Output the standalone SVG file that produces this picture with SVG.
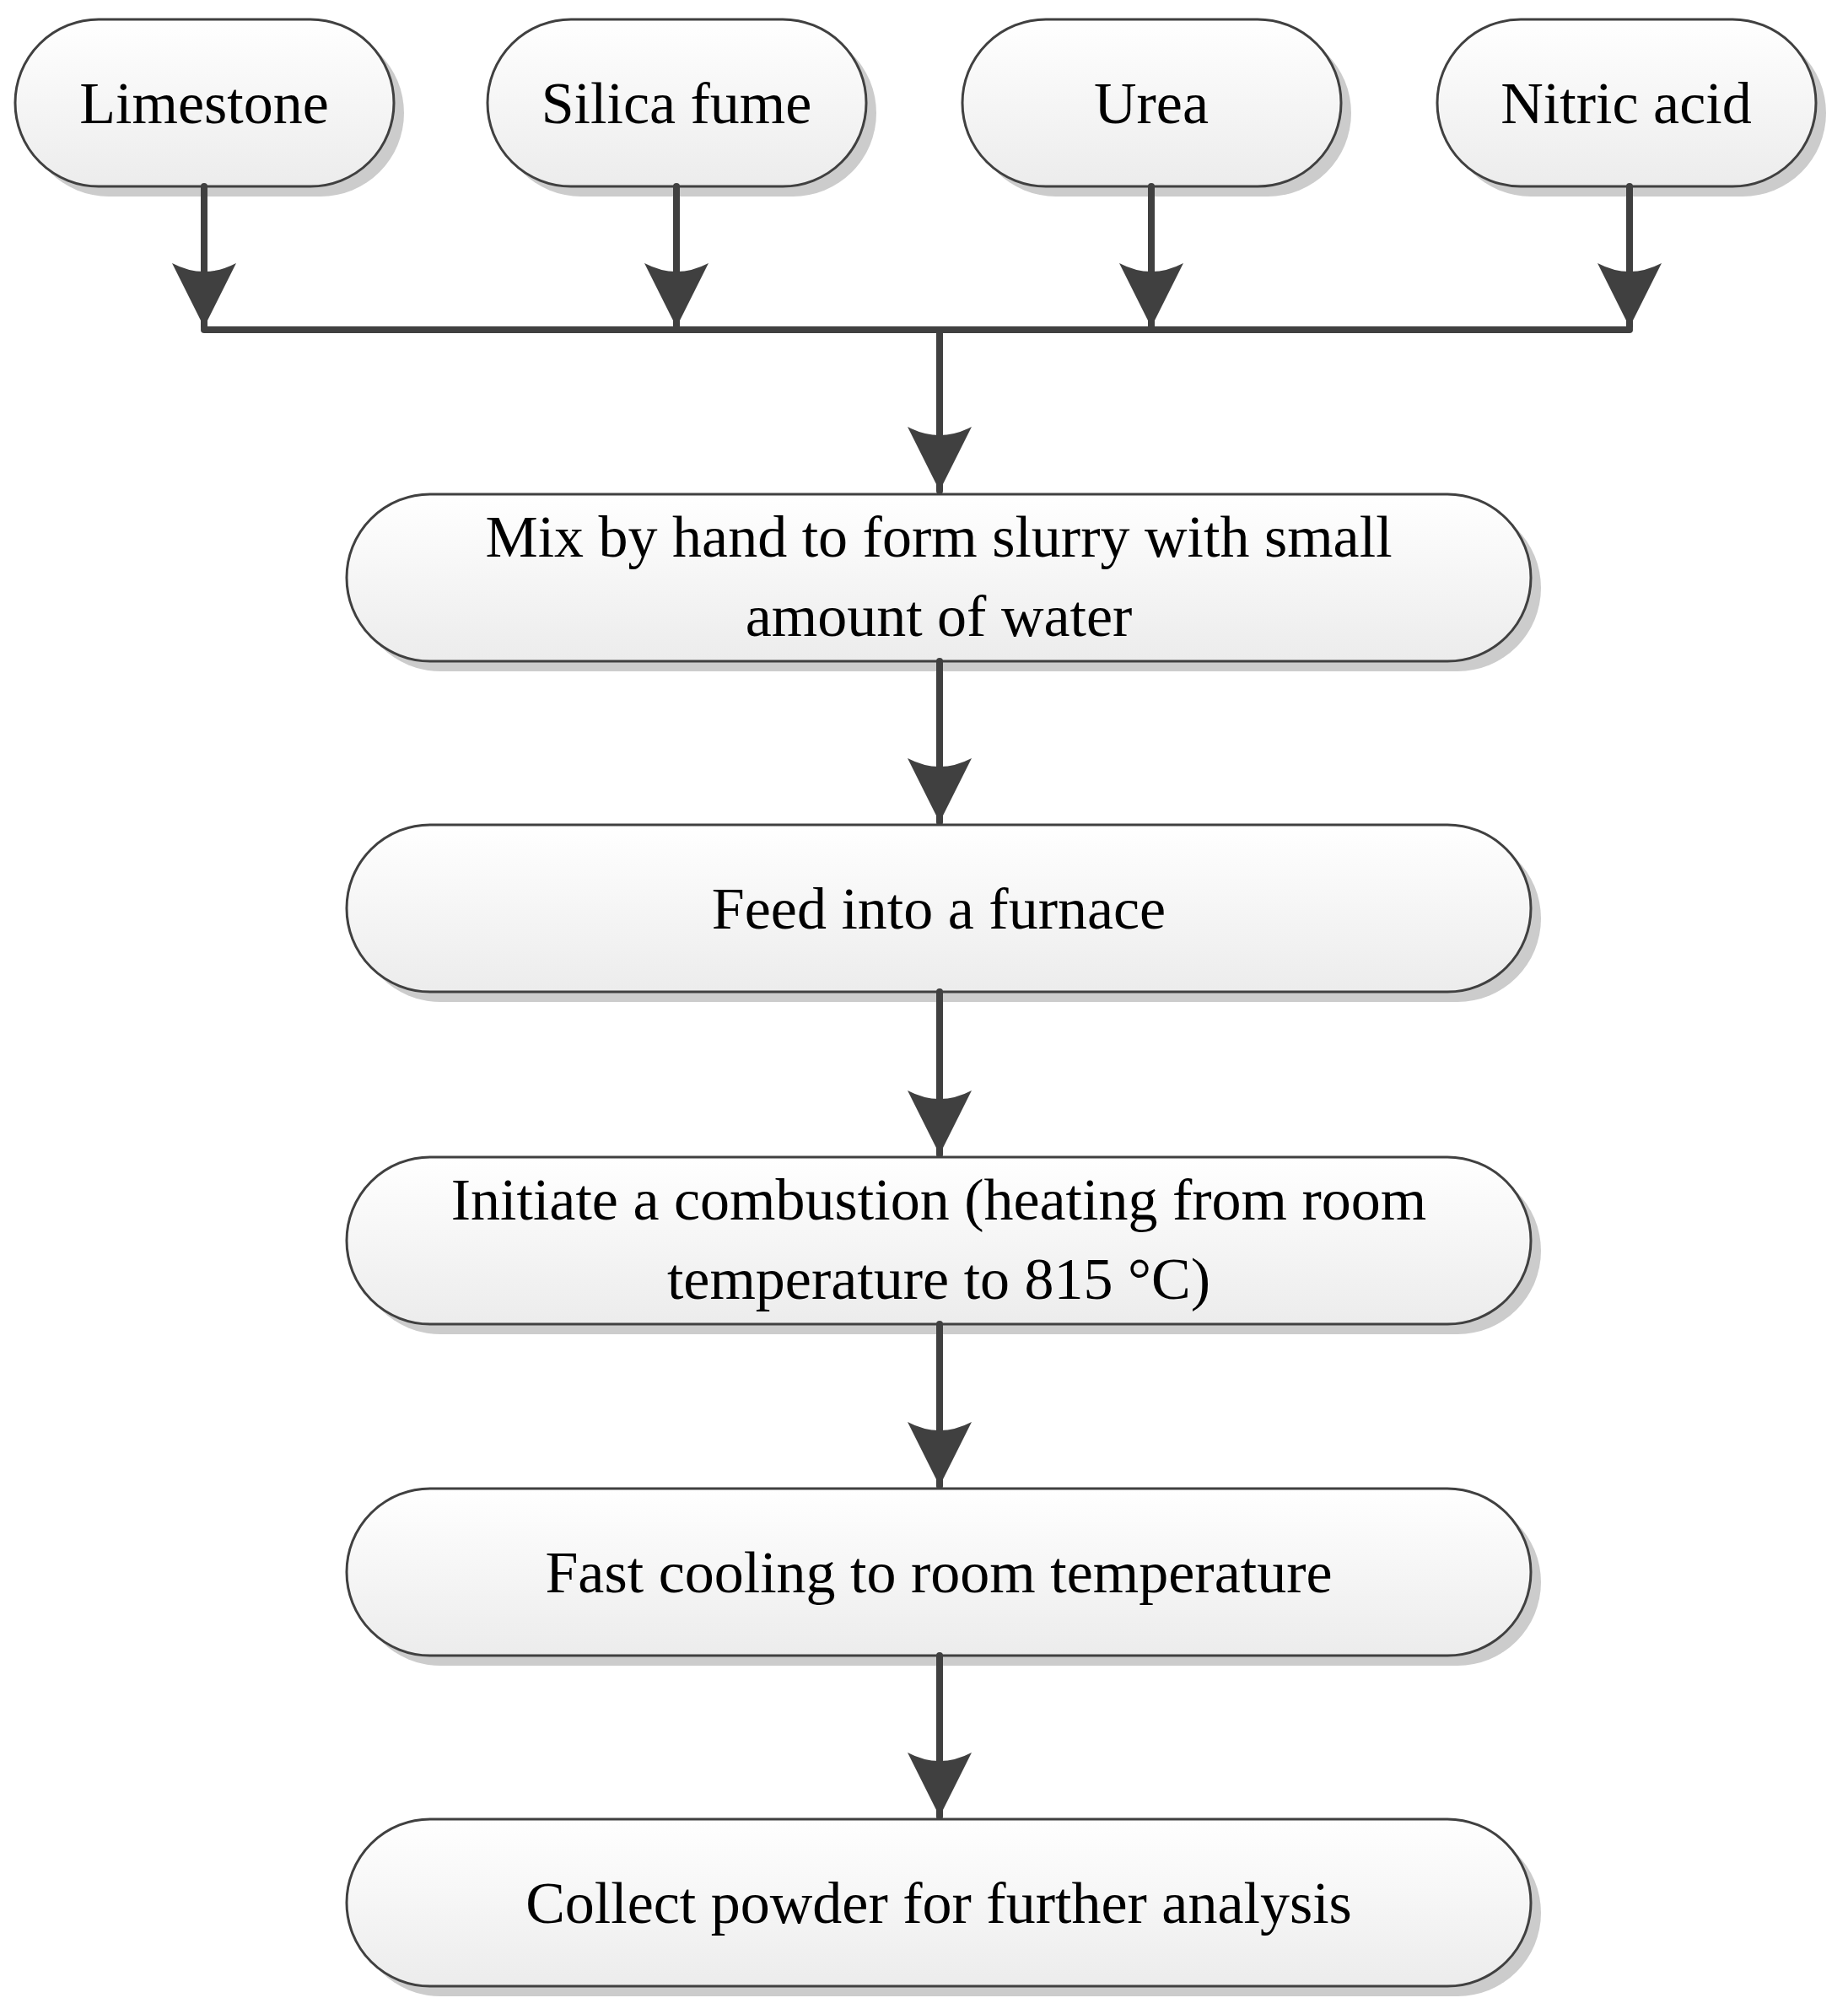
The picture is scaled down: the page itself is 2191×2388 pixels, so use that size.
<svg xmlns="http://www.w3.org/2000/svg" width="2191" height="2388" viewBox="0 0 2191 2388">
<defs>
<linearGradient id="g" x1="0" y1="0" x2="0" y2="1"><stop offset="0" stop-color="#ffffff"/><stop offset="1" stop-color="#ececec"/></linearGradient>
<marker id="ah" markerUnits="userSpaceOnUse" markerWidth="80" markerHeight="80" viewBox="0 0 80 80" refX="76" refY="40" orient="auto"><path d="M0,2 Q20,40 0,78 L76,40 Z" fill="#404040"/></marker>
<style>
.b{fill:url(#g);stroke:#404040;stroke-width:3}
.s{fill:#cccccc}
.t{font-family:"Liberation Serif",serif;font-size:70px;text-anchor:middle;fill:#000}
.c{stroke:#404040;stroke-width:8;fill:none;stroke-linecap:round}
</style>
</defs>
<rect width="2191" height="2388" fill="#fff"/>
<g id="limestone"><rect class="s" x="30" y="35" width="449" height="198" rx="99"/><rect class="b" x="18" y="23" width="449" height="198" rx="99"/><text class="t" x="242" y="146">Limestone</text></g>
<g id="silica"><rect class="s" x="590" y="35" width="449" height="198" rx="99"/><rect class="b" x="578" y="23" width="449" height="198" rx="99"/><text class="t" x="802" y="146">Silica fume</text></g>
<g id="urea"><rect class="s" x="1153" y="35" width="449" height="198" rx="99"/><rect class="b" x="1141" y="23" width="449" height="198" rx="99"/><text class="t" x="1365" y="146">Urea</text></g>
<g id="nitric"><rect class="s" x="1716" y="35" width="449" height="198" rx="99"/><rect class="b" x="1704" y="23" width="449" height="198" rx="99"/><text class="t" x="1928" y="146">Nitric acid</text></g>
<g id="mix"><rect class="s" x="423" y="598" width="1404" height="198" rx="99"/><rect class="b" x="411" y="586" width="1404" height="198" rx="99"/><text class="t" x="1113" y="660">Mix by hand to form slurry with small</text><text class="t" x="1113" y="754">amount of water</text></g>
<g id="feed"><rect class="s" x="423" y="990" width="1404" height="198" rx="99"/><rect class="b" x="411" y="978" width="1404" height="198" rx="99"/><text class="t" x="1113" y="1101">Feed into a furnace</text></g>
<g id="initiate"><rect class="s" x="423" y="1384" width="1404" height="198" rx="99"/><rect class="b" x="411" y="1372" width="1404" height="198" rx="99"/><text class="t" x="1113" y="1446">Initiate a combustion (heating from room</text><text class="t" x="1113" y="1540">temperature to 815 °C)</text></g>
<g id="fast"><rect class="s" x="423" y="1777" width="1404" height="198" rx="99"/><rect class="b" x="411" y="1765" width="1404" height="198" rx="99"/><text class="t" x="1113" y="1888">Fast cooling to room temperature</text></g>
<g id="collect"><rect class="s" x="423" y="2169" width="1404" height="198" rx="99"/><rect class="b" x="411" y="2157" width="1404" height="198" rx="99"/><text class="t" x="1113" y="2280">Collect powder for further analysis</text></g>
<g id="connectors">
<line class="c" x1="242" y1="221" x2="242" y2="388" marker-end="url(#ah)"/>
<line class="c" x1="802" y1="221" x2="802" y2="388" marker-end="url(#ah)"/>
<line class="c" x1="1365" y1="221" x2="1365" y2="388" marker-end="url(#ah)"/>
<line class="c" x1="1932" y1="221" x2="1932" y2="388" marker-end="url(#ah)"/>
<line class="c" x1="242" y1="391" x2="1932" y2="391"/>
<line class="c" x1="1114" y1="391" x2="1114" y2="582" marker-end="url(#ah)"/>
<line class="c" x1="1114" y1="784" x2="1114" y2="975" marker-end="url(#ah)"/>
<line class="c" x1="1114" y1="1176" x2="1114" y2="1369" marker-end="url(#ah)"/>
<line class="c" x1="1114" y1="1570" x2="1114" y2="1762" marker-end="url(#ah)"/>
<line class="c" x1="1114" y1="1963" x2="1114" y2="2154" marker-end="url(#ah)"/>
</g>
</svg>
